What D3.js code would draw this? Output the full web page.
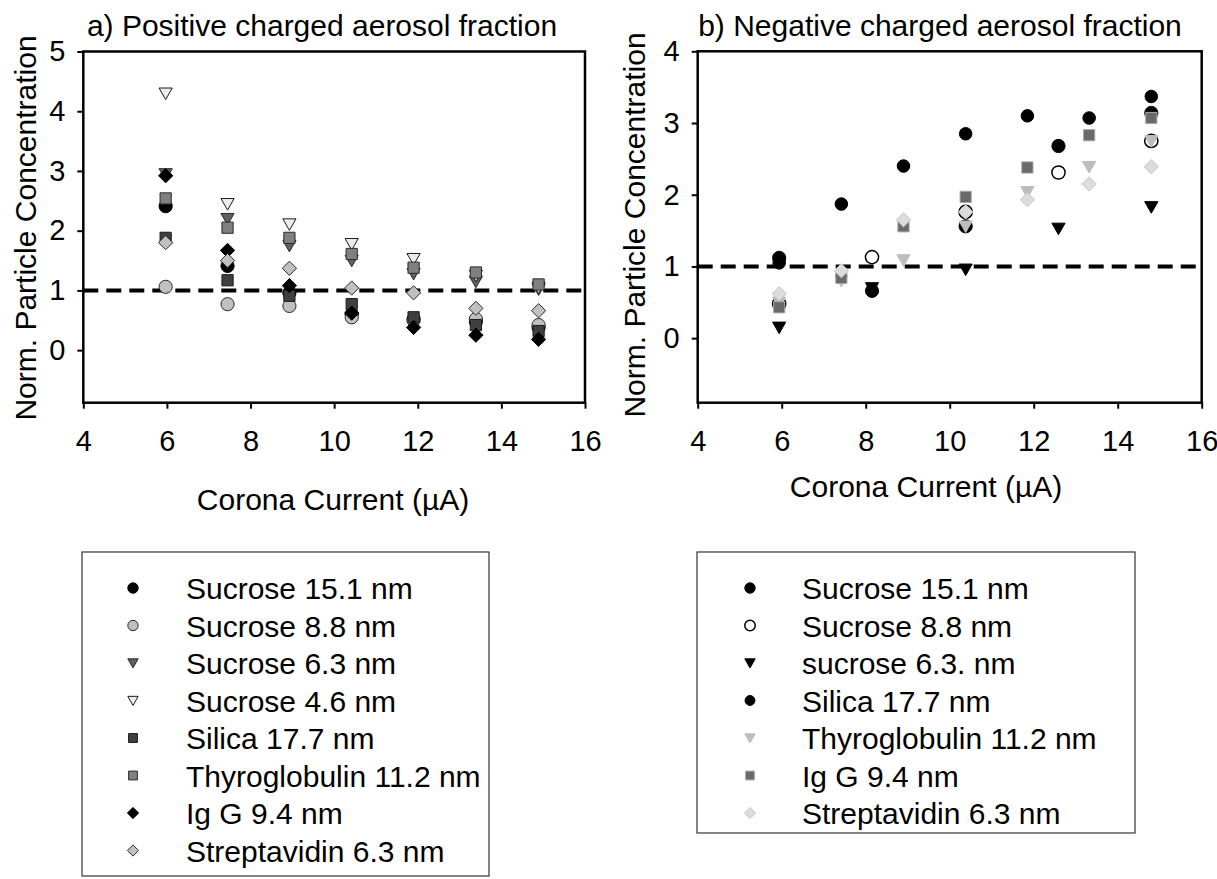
<!DOCTYPE html>
<html>
<head>
<meta charset="utf-8">
<script src="https://cdn.jsdelivr.net/npm/d3@7"></script>
<style>
  html, body { margin: 0; padding: 0; background: #fff; }
  svg { display: block; font-family: "Liberation Sans", Arial, sans-serif; }
</style>
</head>
<body>
<svg id="chart" width="1217" height="879"></svg>
<script>
// ---- Data: normalised particle concentration vs. corona current (µA) ----
const xTicks = [4, 6, 8, 10, 12, 14, 16];
const yTicksA = [0, 1, 2, 3, 4, 5];
const yTicksB = [0, 1, 2, 3, 4];

// a) positive charged aerosol fraction
const currentA = [5.97, 7.45, 8.93, 10.42, 11.9, 13.39, 14.89];
const posSucrose151 = [2.41, 1.41, 0.96, 0.60, 0.52, 0.48, 0.38];
const posSucrose88  = [1.06, 0.77, 0.74, 0.55, 0.50, 0.52, 0.42];
const posSucrose63  = [2.95, 2.20, 1.75, 1.50, 1.28, 1.15, 1.02];
const posSucrose46  = [4.30, 2.45, 2.11, 1.78, 1.53, 1.25, 1.05];
const posSilica     = [1.88, 1.17, 0.91, 0.77, 0.55, 0.42, 0.32];
const posThyro      = [2.54, 2.05, 1.88, 1.61, 1.38, 1.30, 1.10];
const posIgG        = [2.92, 1.67, 1.08, 0.62, 0.38, 0.25, 0.18];
const posStrep      = [1.80, 1.50, 1.37, 1.04, 0.96, 0.70, 0.66];

// b) negative charged aerosol fraction
const currentBSucrose = [5.94, 8.15, 10.38, 12.59, 14.8];
const currentBOther   = [5.94, 7.42, 8.9, 10.38, 11.85, 13.32, 14.8];
const negSucrose151 = [1.12, 0.66, 1.56, 2.68, 3.14];
const negSucrose88  = [0.48, 1.13, 1.76, 2.31, 2.75];
const negSucrose63  = [0.15, 0.70, 0.96, 1.53, 1.83];
const negSilica     = [1.05, 1.87, 2.40, 2.85, 3.10, 3.07, 3.37];
const negThyro      = [0.50, 0.80, 1.09, 1.56, 2.04, 2.39, 2.75];
const negIgG        = [0.43, 0.84, 1.56, 1.97, 2.38, 2.83, 3.07];
const negStrep      = [0.62, 0.94, 1.65, 1.76, 1.93, 2.15, 2.39];

const labelsA = ["Sucrose 15.1 nm", "Sucrose 8.8 nm", "Sucrose 6.3 nm", "Sucrose 4.6 nm",
                 "Silica 17.7 nm", "Thyroglobulin 11.2 nm", "Ig G 9.4 nm", "Streptavidin 6.3 nm"];
const labelsB = ["Sucrose 15.1 nm", "Sucrose 8.8 nm", "sucrose 6.3. nm", "Silica 17.7 nm",
                 "Thyroglobulin 11.2 nm", "Ig G 9.4 nm", "Streptavidin 6.3 nm"];

// ---- marker shapes ----
function shape(type, s) {
  switch (type) {
    case "circle":   return `M${s},0A${s},${s} 0 1,1 ${-s},0A${s},${s} 0 1,1 ${s},0Z`;
    case "triangle": return `M${-s},${-s*0.8}L${s},${-s*0.8}L0,${s*0.95}Z`;
    case "square":   return `M${-s*0.85},${-s*0.85}H${s*0.85}V${s*0.85}H${-s*0.85}Z`;
    case "diamond":  return `M0,${-s*1.08}L${s*1.08},0L0,${s*1.08}L${-s*1.08},0Z`;
  }
}

const seriesA = [
  { x: currentA, y: posSucrose151, type: "circle",   fill: "#000000", stroke: "#000000", sw: 1 },
  { x: currentA, y: posSucrose88,  type: "circle",   fill: "#c0c0c0", stroke: "#2a2a2a", sw: 1 },
  { x: currentA, y: posSucrose63,  type: "triangle", fill: "#606060", stroke: "#2a2a2a", sw: 1 },
  { x: currentA, y: posSucrose46,  type: "triangle", fill: "#ececec", stroke: "#1a1a1a", sw: 1 },
  { x: currentA, y: posSilica,     type: "square",   fill: "#404040", stroke: "#1a1a1a", sw: 1 },
  { x: currentA, y: posThyro,      type: "square",   fill: "#808080", stroke: "#2a2a2a", sw: 1 },
  { x: currentA, y: posIgG,        type: "diamond",  fill: "#000000", stroke: "#000000", sw: 1 },
  { x: currentA, y: posStrep,      type: "diamond",  fill: "#c0c0c0", stroke: "#2a2a2a", sw: 1 }
];
const seriesB = [
  { x: currentBSucrose, y: negSucrose151, type: "circle",   fill: "#000000", stroke: "#000000", sw: 1, r: 1.0 },
  { x: currentBSucrose, y: negSucrose88,  type: "circle",   fill: "#ffffff", stroke: "#000000", sw: 1.5, r: 1.0 },
  { x: currentBSucrose, y: negSucrose63,  type: "triangle", fill: "#000000", stroke: "#000000", sw: 1, r: 1.0 },
  { x: currentBOther,   y: negSilica,     type: "circle",   fill: "#000000", stroke: "#000000", sw: 1, r: 0.95 },
  { x: currentBOther,   y: negThyro,      type: "triangle", fill: "#bdbdbd", stroke: "#bdbdbd", sw: 1, r: 1.0 },
  { x: currentBOther,   y: negIgG,        type: "square",   fill: "#6a6a6a", stroke: "#a8a8a8", sw: 1, r: 1.0 },
  { x: currentBOther,   y: negStrep,      type: "diamond",  fill: "#dcdcdc", stroke: "#c8c8c8", sw: 1, r: 1.0 }
];

const svg = d3.select("#chart");
const FONT = 30, TICKFONT = 29;

function panel(opt) {
  const x = d3.scaleLinear().domain([4, 16]).range([opt.left, opt.right]);
  const y = d3.scaleLinear().domain(opt.yDomain).range([opt.bottom, opt.top]);
  const g = svg.append("g");

  // reference line at a normalised concentration of 1
  g.append("line")
    .attr("x1", opt.left).attr("x2", opt.right)
    .attr("y1", y(1)).attr("y2", y(1))
    .attr("stroke", "#000").attr("stroke-width", 4)
    .attr("stroke-dasharray", "15,8");

  // axes
  const ya = g.append("g").attr("transform", `translate(${opt.left},0)`)
    .call(d3.axisLeft(y).tickValues(opt.yTicks).tickFormat(d3.format("d")).tickSize(6).tickPadding(12));
  const xa = g.append("g").attr("transform", `translate(0,${opt.bottom})`)
    .call(d3.axisBottom(x).tickValues(xTicks).tickFormat(d3.format("d")).tickSize(6).tickPadding(22));
  [ya, xa].forEach(a => {
    a.select(".domain").remove();
    a.selectAll(".tick line").attr("stroke", "#000").attr("stroke-width", 2);
    a.selectAll(".tick text").attr("font-size", TICKFONT).attr("fill", "#000")
      .attr("font-family", "Liberation Sans, Arial, sans-serif");
  });

  // frame
  g.append("rect")
    .attr("x", opt.left).attr("y", opt.top)
    .attr("width", opt.right - opt.left).attr("height", opt.bottom - opt.top)
    .attr("fill", "none").attr("stroke", "#000").attr("stroke-width", 2.5);

  // markers
  opt.series.forEach(s => {
    g.append("g").selectAll("path")
      .data(s.y.map((v, i) => [s.x[i], v]))
      .join("path")
      .attr("transform", d => `translate(${x(d[0])},${y(d[1])})`)
      .attr("d", shape(s.type, 6.6 * (s.r || 1)))
      .attr("fill", s.fill).attr("stroke", s.stroke).attr("stroke-width", s.sw);
  });

  // titles and axis labels
  g.append("text").attr("x", opt.titleX).attr("y", 36)
    .attr("text-anchor", "middle").attr("font-size", FONT).text(opt.title);
  g.append("text").attr("x", opt.xLabelX).attr("y", opt.xLabelY)
    .attr("text-anchor", "middle").attr("font-size", FONT).text("Corona Current (µA)");
  g.append("text")
    .attr("transform", `translate(${opt.yLabelX},${opt.yLabelY}) rotate(-90)`)
    .attr("text-anchor", "middle").attr("font-size", FONT).text("Norm. Particle Concentration");

  // legend
  const L = opt.legend;
  g.append("rect").attr("x", L.x).attr("y", L.y).attr("width", L.w).attr("height", L.h)
    .attr("fill", "#fff").attr("stroke", "#333").attr("stroke-width", 1.2);
  opt.series.forEach((s, i) => {
    const cy = L.firstRow + i * 37.5;
    g.append("path")
      .attr("transform", `translate(${L.markerX},${cy})`)
      .attr("d", shape(s.type, 5.2 * (s.r || 1)))
      .attr("fill", s.fill).attr("stroke", s.stroke).attr("stroke-width", s.sw);
    g.append("text").attr("x", L.textX).attr("y", cy + 11)
      .attr("font-size", FONT).text(opt.labels[i]);
  });
}

panel({
  left: 83.3, right: 585, top: 51.5, bottom: 402.7, yDomain: [-0.88, 5], yTicks: yTicksA,
  series: seriesA, labels: labelsA,
  title: "a) Positive charged aerosol fraction", titleX: 322,
  xLabelX: 333, xLabelY: 510, yLabelX: 36, yLabelY: 228,
  legend: { x: 82, y: 552, w: 407, h: 324, markerX: 133, textX: 186, firstRow: 588 }
});
panel({
  left: 697.7, right: 1201.7, top: 51.3, bottom: 402.7, yDomain: [-0.9, 4], yTicks: yTicksB,
  series: seriesB, labels: labelsB,
  title: "b) Negative charged aerosol fraction", titleX: 940,
  xLabelX: 926, xLabelY: 497, yLabelX: 645, yLabelY: 225,
  legend: { x: 697, y: 552, w: 438, h: 281, markerX: 750, textX: 802, firstRow: 588 }
});
</script>
</body>
</html>
